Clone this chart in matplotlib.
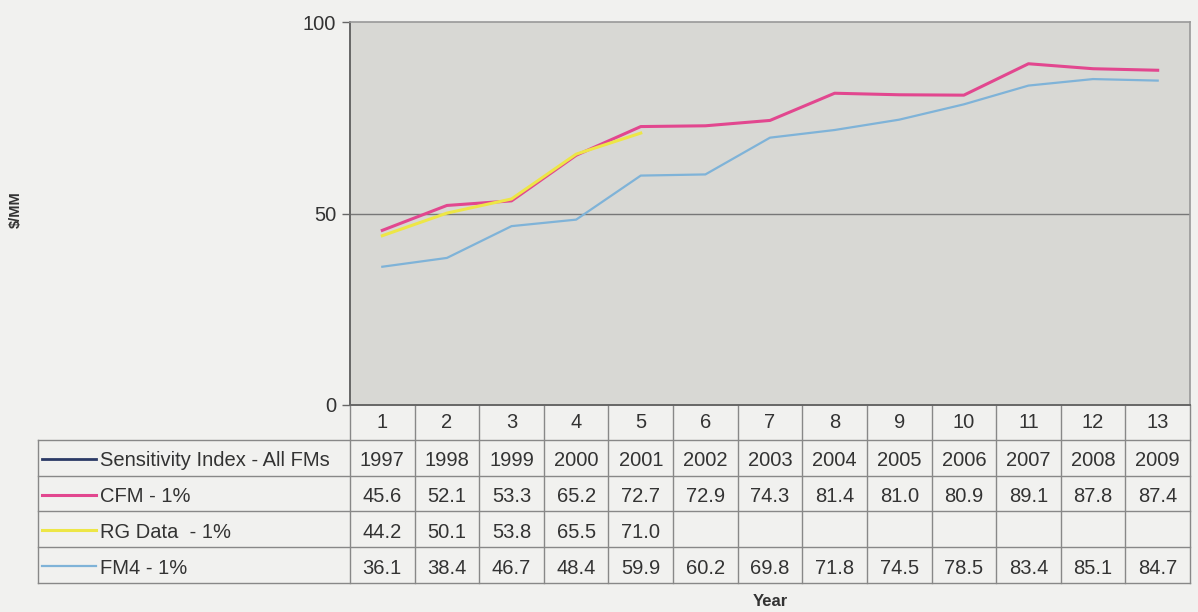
import numpy as np
import matplotlib.pyplot as plt
from matplotlib.transforms import blended_transform_factory

# categories and series
cats = list(range(1, 14))
years = [1997, 1998, 1999, 2000, 2001, 2002, 2003, 2004, 2005, 2006, 2007, 2008, 2009]
cfm = [45.6, 52.1, 53.3, 65.2, 72.7, 72.9, 74.3, 81.4, 81.0, 80.9, 89.1, 87.8, 87.4]
rg = [44.2, 50.1, 53.8, 65.5, 71.0]
fm4 = [36.1, 38.4, 46.7, 48.4, 59.9, 60.2, 69.8, 71.8, 74.5, 78.5, 83.4, 85.1, 84.7]

names = ['Sensitivity Index - All FMs', 'CFM - 1%', 'RG Data  - 1%', 'FM4 - 1%']
colors = ['#2b3a66', '#e2478f', '#ede646', '#7fb3d8']
widths = [2.0, 2.2, 2.2, 1.6]
rows = [years, cfm, rg, fm4]

plt.rcParams['font.family'] = ['Liberation Sans', 'DejaVu Sans']

fig = plt.figure(figsize=(11.98, 6.12), dpi=100, facecolor='#f1f1ef')
W, H = 1198, 612
x0, x1, y0, y1 = 350, 1190, 405, 22
ax = fig.add_axes([x0 / W, 1 - y0 / H, (x1 - x0) / W, (y0 - y1) / H])
ax.set_facecolor('#d8d8d4')

for vals, c, lw in zip(rows, colors, widths):
    ax.plot(cats[:len(vals)], vals, color=c, lw=lw, zorder=3)

ax.set_xlim(0.5, 13.5)
ax.set_ylim(0, 100)
ax.set_yticks([0, 50, 100])
ax.set_yticklabels(['0', '50', '100'], fontsize=14.5, color='#333333')
ax.set_xticks([])
ax.axhline(50, color='#777777', lw=1.0, zorder=2)
ax.tick_params(axis='y', length=6, width=1, color='#666666', pad=4)
for side in ['top', 'right']:
    ax.spines[side].set_color('#999999')
    ax.spines[side].set_linewidth(1.2)
for side in ['left', 'bottom']:
    ax.spines[side].set_color('#666666')
    ax.spines[side].set_linewidth(1.4)

# data table underneath
ah = y0 - y1
def yf(py):
    return (y0 - py) / ah

tr = blended_transform_factory(ax.transData, ax.transAxes)
tra = ax.transAxes
edges = [(x0 + i * (x1 - x0) / 13) for i in range(14)]
row_edges = [405, 440, 476, 511, 547, 583]
lc = '#888888'
fs = 14.5
tkw = dict(fontsize=fs, color='#333333', ha='center', va='center', clip_on=False)

# category number row
for i, c in enumerate(cats):
    ax.text(c, yf(423), str(c), transform=tr, **tkw)

# value rows
for r, vals in enumerate(rows):
    yc = (row_edges[r + 1] + row_edges[r + 2]) / 2
    for i, v in enumerate(vals):
        s = str(v) if r == 0 else f'{v:.1f}'
        ax.text(cats[i], yf(yc + 3), s, transform=tr, **tkw)
    # legend key and name
    lx0, lx1 = (42 - x0) / (x1 - x0), (96 - x0) / (x1 - x0)
    ax.plot([lx0, lx1], [yf(yc + 1), yf(yc + 1)], color=colors[r], lw=widths[r],
            transform=tra, clip_on=False)
    ax.text((100 - x0) / (x1 - x0), yf(yc + 3), names[r], transform=tra,
            fontsize=fs, color='#333333', ha='left', va='center', clip_on=False)

# grid lines of the table
for py in row_edges[1:]:
    ax.plot([(38 - x0) / (x1 - x0), 1], [yf(py), yf(py)], color=lc, lw=1.0,
            transform=tra, clip_on=False)
for px in edges:
    ax.plot([(px - x0) / (x1 - x0)] * 2, [0, yf(583)], color=lc, lw=1.0,
            transform=tra, clip_on=False)
ax.plot([(38 - x0) / (x1 - x0)] * 2, [yf(440), yf(583)], color=lc, lw=1.0,
        transform=tra, clip_on=False)

fig.text(770 / W, 1 - 601 / H, 'Year', fontsize=12, fontweight='bold',
         color='#333333', ha='center', va='center')
fig.text(16 / W, 1 - 210 / H, '$/MM', fontsize=10.5, fontweight='bold',
         color='#333333', ha='center', va='center', rotation=90)

fig.savefig('out.png', dpi=100, facecolor=fig.get_facecolor())
